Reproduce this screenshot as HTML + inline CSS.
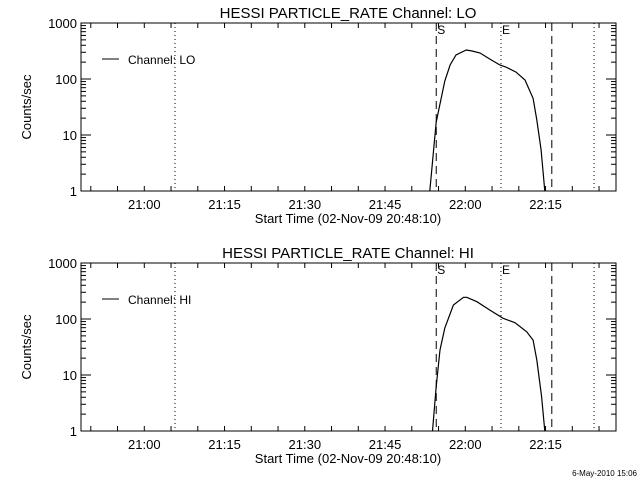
<!DOCTYPE html>
<html><head><meta charset="utf-8"><style>
html,body{margin:0;padding:0;background:#fff;}
svg{display:block;font-family:"Liberation Sans",sans-serif;}
</style></head><body>
<svg id="chart" width="640" height="480" viewBox="0 0 640 480"></svg>
<script>
const timeLabels = ["21:00","21:15","21:30","21:45","22:00","22:15"];
const labelMinutes = [11.83,26.83,41.83,56.83,71.83,86.83];
const yTicks = [1,10,100,1000];
const loTimes = [65.2,66.4,68.0,69.0,70.1,72.0,73.1,74.6,76.4,78.3,79.4,81.3,83.0,84.5,85.2,86.0,86.7];
const loValues = [1,17,92,178,269,330,316,291,228,178,164,133,96,45,18.6,5.4,1];
const hiTimes = [65.7,66.4,67.1,68.0,69.6,71.5,72.1,74.0,76.4,78.9,81.1,83.3,84.5,85.2,86.1,86.7];
const hiValues = [1,6.2,28,69,178,244,244,204,145,103,86,59,42,18.6,4.1,1];
const dottedMinutes = [17.57,78.5,95.9];
const dashedMinutes = [66.4,88.0];
const panels = [
  {name:"lo", title:"HESSI PARTICLE_RATE Channel: LO", legend:"Channel: LO", t:loTimes, v:loValues, off:0},
  {name:"hi", title:"HESSI PARTICLE_RATE Channel: HI", legend:"Channel: HI", t:hiTimes, v:hiValues, off:240}
];
const NS="http://www.w3.org/2000/svg";
const svg=document.getElementById('chart');
const X0=81,X1=616,TMAX=100;
function xs(m){return X0+(X1-X0)*m/TMAX;}
function mk(tag,attrs,parent){const e=document.createElementNS(NS,tag);for(const k in attrs)e.setAttribute(k,attrs[k]);(parent||svg).appendChild(e);return e;}
panels.forEach(p=>{
  const top=23+p.off,bot=191+p.off;
  function ys(v){return bot-(bot-top)*Math.log10(v)/3;}
  const g=mk('g',{});
  
  
  const t=mk('text',{x:348,y:18+p.off,'text-anchor':'middle','font-size':15},g);
  t.textContent=p.title;
  
  
  const fr=mk('rect',{x:X0,y:top,width:X1-X0,height:bot-top,fill:'none',stroke:'#000','stroke-width':1},g);
  
  
  for(let m=1.83;m<TMAX;m+=5){
    const x=xs(m);
    mk('line',{x1:x,y1:bot,x2:x,y2:bot-5,stroke:'#000'},g);
    mk('line',{x1:x,y1:top,x2:x,y2:top+5,stroke:'#000'},g);
  }
  timeLabels.forEach((l,i)=>{
    const tx=mk('text',{x:xs(labelMinutes[i]),y:bot+18,'text-anchor':'middle','font-size':13},g);
    tx.textContent=l;
    
    
  });
  const xl=mk('text',{x:348,y:bot+32,'text-anchor':'middle','font-size':13},g);
  xl.textContent='Start Time (02-Nov-09 20:48:10)';
  
  
  yTicks.forEach(v=>{
    const y=ys(v);
    mk('line',{x1:X0,y1:y,x2:X0+10,y2:y,stroke:'#000'},g);
    mk('line',{x1:X1,y1:y,x2:X1-10,y2:y,stroke:'#000'},g);
    const tl=mk('text',{x:X0-4,y:y+5,'text-anchor':'end','font-size':13},g);
    tl.textContent=String(v);
    
    
    if(v<1000){for(let k=2;k<10;k++){const yy=ys(v*k);
      mk('line',{x1:X0,y1:yy,x2:X0+5,y2:yy,stroke:'#000'},g);
      mk('line',{x1:X1,y1:yy,x2:X1-5,y2:yy,stroke:'#000'},g);}}
  });
  const yl=mk('text',{x:0,y:0,'text-anchor':'middle','font-size':13,transform:`translate(31,${107+p.off}) rotate(-90)`},g);
  yl.textContent='Counts/sec';
  
  
  dottedMinutes.forEach(m=>{
    const l=mk('line',{x1:xs(m),y1:top,x2:xs(m),y2:bot,stroke:'#000','stroke-dasharray':'1,3'},g);
    
    
  });
  dashedMinutes.forEach(m=>{
    const l=mk('line',{x1:xs(m),y1:top,x2:xs(m),y2:bot,stroke:'#000','stroke-dasharray':'8,5'},g);
    
    
  });
  const s=mk('text',{x:xs(dashedMinutes[0])+1,y:top+11,'font-size':12},g);
  s.textContent='S';
  
  
  const e=mk('text',{x:xs(dottedMinutes[1])+1,y:top+11,'font-size':12},g);
  e.textContent='E';
  
  
  const pts=p.t.map((m,i)=>xs(m).toFixed(1)+','+ys(p.v[i]).toFixed(1)).join(' ');
  const pl=mk('polyline',{points:pts,fill:'none',stroke:'#000','stroke-width':1.2},g);
  
  
  const ll=mk('line',{x1:102,y1:59+p.off,x2:119,y2:59+p.off,stroke:'#000'},g);
  
  
  const lt=mk('text',{x:128,y:64+p.off,'font-size':12},g);
  lt.textContent=p.legend;
  
  
});
const st=mk('text',{x:637,y:476,'text-anchor':'end','font-size':8});
st.textContent='6-May-2010 15:06';


</script>
</body></html>
